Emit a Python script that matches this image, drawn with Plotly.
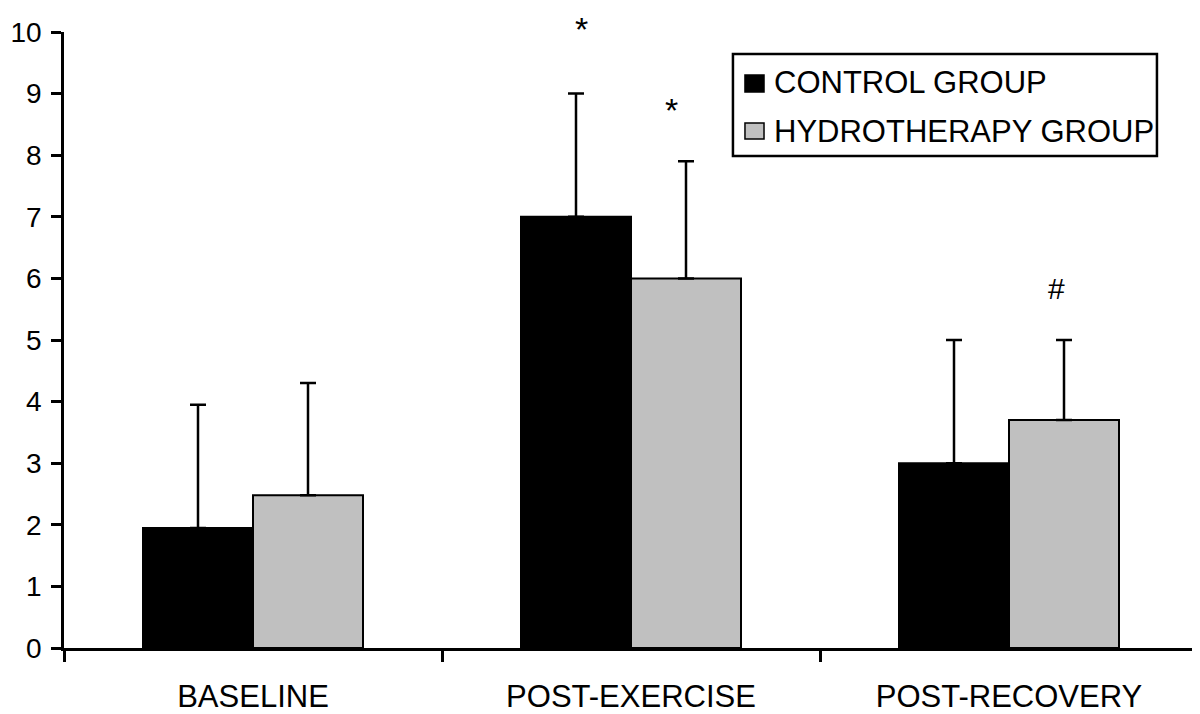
import plotly.graph_objects as go

categories = ["BASELINE", "POST-EXERCISE", "POST-RECOVERY"]
control_values = [1.95, 7.0, 3.0]
control_sd = [2.0, 2.0, 2.0]
hydro_values = [2.48, 6.0, 3.7]
hydro_sd = [1.82, 1.9, 1.3]
zeros = [0, 0, 0]
series_names = ["CONTROL GROUP", "HYDROTHERAPY GROUP"]
series_colors = ["#000000", "#c0c0c0"]

FONT = "Liberation Sans, Arial, sans-serif"
Y_MAX = 10

fig = go.Figure()
fig.add_trace(go.Bar(
    x=categories, y=control_values, name=series_names[0],
    marker=dict(color=series_colors[0], line=dict(color="#000000", width=2)),
    error_y=dict(type="data", array=control_sd, arrayminus=zeros, symmetric=False,
                 color="#000000", thickness=2.5, width=8),
))
fig.add_trace(go.Bar(
    x=categories, y=hydro_values, name=series_names[1],
    marker=dict(color=series_colors[1], line=dict(color="#000000", width=2)),
    error_y=dict(type="data", array=hydro_sd, arrayminus=zeros, symmetric=False,
                 color="#000000", thickness=2.5, width=8),
))

# significance markers (value-level position, pixel offset from category centre)
markers = [
    dict(x="POST-EXERCISE", y=10.37, text="*", xshift=-50, size=34, anchor="top"),
    dict(x="POST-EXERCISE", y=8.74, text="*", xshift=40, size=34, anchor="middle"),
    dict(x="POST-RECOVERY", y=5.83, text="#", xshift=47, size=30, anchor="middle"),
]
for a in markers:
    fig.add_annotation(x=a["x"], xref="x", y=a["y"] / Y_MAX, yref="paper",
                       text=a["text"], xshift=a["xshift"], borderpad=0,
                       showarrow=False, font=dict(family=FONT, size=a["size"], color="#000000"),
                       yanchor=a["anchor"], xanchor="center")

# legend drawn as a boxed key
fig.add_shape(type="rect", xref="paper", yref="paper", x0=0.5899, x1=0.9638, y0=0.7987, y1=0.9643,
              line=dict(color="#000000", width=2.5), fillcolor="white", layer="above")
legend_rows = [(0.9026, 0.9302, 0.9188), (0.8263, 0.8523, 0.8377)]
for (y0, y1, ty), nm, col in zip(legend_rows, series_names, series_colors):
    fig.add_shape(type="rect", xref="paper", yref="paper", x0=0.6005, x1=0.6173, y0=y0, y1=y1,
                  line=dict(color="#000000", width=1.5), fillcolor=col, layer="above")
    fig.add_annotation(x=0.6252, y=ty, xref="paper", yref="paper", text=nm, showarrow=False,
                       xanchor="left", yanchor="middle", borderpad=0,
                       font=dict(family=FONT, size=31, color="#000000"))

fig.update_layout(
    width=1192, height=706,
    margin=dict(l=56, r=2, t=24, b=66),
    paper_bgcolor="white", plot_bgcolor="white",
    barmode="group", bargap=0.418, bargroupgap=0,
    font=dict(family=FONT, size=28, color="#000000"),
    showlegend=False,
    xaxis=dict(showline=True, linecolor="#000000", linewidth=2.5,
               ticks="outside", tickson="boundaries", ticklen=11, tickwidth=2.5,
               tickcolor="#000000", showgrid=False, zeroline=False, automargin=False,
               ticklabelstandoff=19,
               tickfont=dict(family=FONT, size=31)),
    yaxis=dict(range=[0, Y_MAX], dtick=1, showline=True, linecolor="#000000", linewidth=2.5,
               ticks="outside", ticklen=10, tickwidth=2.5, tickcolor="#000000",
               showgrid=False, zeroline=False, ticklabelstandoff=4, automargin=False,
               tickfont=dict(family=FONT, size=28)),
)

fig.write_html("out.html")
